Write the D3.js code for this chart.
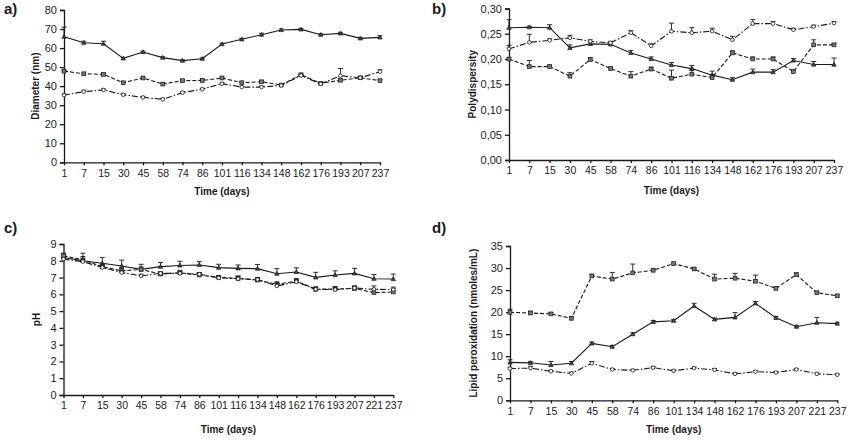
<!DOCTYPE html>
<html>
<head>
<meta charset="utf-8">
<script src="https://cdn.jsdelivr.net/npm/d3@7"></script>
<style>
  body { margin: 0; background: #fff; }
  svg { font-family: "Liberation Sans", Arial, sans-serif; }
  .tick text { fill: #222; }
</style>
</head>
<body>
<div id="chart"></div>
<script>
// Time points (days) used on each panel
const daysA = ["1","7","15","30","45","58","74","86","101","116","134","148","162","176","193","207","237"];
const daysB = daysA;
const daysC = ["1","7","15","30","45","58","74","86","101","116","134","148","162","176","193","207","221","237"];
const daysD = ["1","7","15","30","45","58","74","86","101","134","148","162","176","193","207","221","237"];

// a) Diameter (nm)
const diamSolid   = [66, 62.8, 62.3, 54.6, 57.9, 55, 53.4, 54.4, 62.1, 64.6, 67, 69.5, 69.8, 67, 67.7, 65.1, 65.6];
const diamDashed  = [47.9, 46.5, 46.2, 41.8, 44.3, 41.1, 42.9, 43, 44.3, 41.8, 42.3, 40.6, 46, 41.5, 43.1, 44.4, 42.9];
const diamDashdot = [35.3, 37.1, 38, 35.5, 34.1, 33.1, 36.6, 38.4, 41.3, 39.5, 39.5, 40.4, 45.6, 41.2, 45.5, 44.4, 47.6];
const diamSolidErr   = [5, 0.8, 1.3, 0.5, 0.5, 0.4, 0.4, 0.4, 0.5, 0.5, 0.8, 0.5, 0.5, 0.5, 0.6, 0.5, 0.9];
const diamDashedErr  = [0.5, 0.5, 0.5, 0.5, 0.5, 0.5, 0.5, 0.5, 0.5, 0.5, 0.5, 0.5, 0.5, 0.5, 0.5, 0.5, 0.5];
const diamDashdotErr = [0.5, 0.8, 0.5, 0.5, 0.5, 0.5, 0.5, 0.5, 0.5, 0.5, 0.5, 0.5, 0.5, 0.5, 3.8, 0.5, 1.0];

// b) Polydispersity
const polySolid   = [0.262, 0.263, 0.262, 0.222, 0.230, 0.229, 0.212, 0.200, 0.188, 0.181, 0.168, 0.159, 0.174, 0.174, 0.197, 0.189, 0.189];
const polyDashed  = [0.200, 0.185, 0.185, 0.166, 0.199, 0.181, 0.166, 0.180, 0.162, 0.170, 0.163, 0.212, 0.200, 0.200, 0.175, 0.228, 0.228];
const polyDashdot = [0.220, 0.233, 0.237, 0.242, 0.235, 0.232, 0.252, 0.226, 0.255, 0.252, 0.255, 0.238, 0.270, 0.270, 0.258, 0.264, 0.271];
const polySolidErr   = [0.016, 0.002, 0.006, 0.006, 0.004, 0.003, 0.005, 0.004, 0.005, 0.006, 0.008, 0.004, 0.006, 0.005, 0.004, 0.006, 0.013];
const polyDashedErr  = [0.003, 0.012, 0.003, 0.007, 0.004, 0.003, 0.009, 0.004, 0.016, 0.008, 0.006, 0.004, 0.004, 0.004, 0.003, 0.010, 0.003];
const polyDashdotErr = [0.007, 0.016, 0.003, 0.005, 0.003, 0.003, 0.004, 0.004, 0.016, 0.010, 0.006, 0.007, 0.008, 0.004, 0.003, 0.003, 0.003];

// c) pH
const phSolid   = [8.2, 8.0, 7.85, 7.69, 7.49, 7.65, 7.72, 7.75, 7.59, 7.55, 7.53, 7.23, 7.33, 7.01, 7.15, 7.25, 6.93, 6.91];
const phDashed  = [8.3, 8.05, 7.65, 7.4, 7.48, 7.21, 7.28, 7.15, 7.01, 6.95, 6.85, 6.6, 6.79, 6.3, 6.32, 6.35, 6.1, 6.14];
const phDashdot = [8.1, 7.95, 7.6, 7.3, 7.1, 7.25, 7.25, 7.2, 6.98, 6.93, 6.88, 6.5, 6.75, 6.3, 6.28, 6.38, 6.3, 6.28];
const phSolidErr   = [0.2, 0.45, 0.35, 0.35, 0.3, 0.25, 0.25, 0.2, 0.2, 0.2, 0.25, 0.3, 0.25, 0.3, 0.25, 0.3, 0.25, 0.3];
const phDashedErr  = [0.15, 0.2, 0.15, 0.15, 0.15, 0.1, 0.15, 0.15, 0.1, 0.15, 0.15, 0.15, 0.15, 0.15, 0.15, 0.15, 0.2, 0.2];
const phDashdotErr = [0.1, 0.15, 0.1, 0.1, 0.1, 0.1, 0.1, 0.1, 0.1, 0.1, 0.1, 0.15, 0.1, 0.1, 0.1, 0.1, 0.2, 0.15];

// d) Lipid peroxidation (nmoles/mL)
const lipidSolid   = [8.6, 8.5, 8.0, 8.4, 12.9, 12.15, 15.0, 17.8, 18.05, 21.4, 18.35, 18.8, 22.0, 18.7, 16.7, 17.6, 17.4];
const lipidDashed  = [19.95, 19.8, 19.6, 18.6, 28.2, 27.5, 28.9, 29.5, 31.0, 29.8, 27.5, 27.7, 27.0, 25.4, 28.5, 24.4, 23.7];
const lipidDashdot = [7.2, 7.3, 6.6, 6.1, 8.4, 7.0, 6.8, 7.4, 6.7, 7.3, 6.9, 6.0, 6.5, 6.3, 7.0, 6.0, 5.8];
const lipidSolidErr   = [0.6, 0.3, 0.8, 0.4, 0.3, 0.3, 0.3, 0.3, 0.3, 0.6, 0.3, 1.1, 0.4, 0.3, 0.3, 1.2, 0.3];
const lipidDashedErr  = [0.7, 0.4, 0.3, 0.4, 0.4, 1.5, 2.0, 0.3, 0.3, 0.3, 1.1, 1.1, 1.4, 0.3, 0.4, 0.3, 0.3];
const lipidDashdotErr = [0.3, 0.4, 0.2, 0.3, 0.4, 0.2, 0.2, 0.2, 0.2, 0.2, 0.3, 0.2, 0.2, 0.2, 0.2, 0.2, 0.2];

const W = 854, H = 440;
const ink = "#1a1a1a";

const svg = d3.select("#chart").append("svg")
    .attr("width", W)
    .attr("height", H);

// line styles for the three formulations
const styles = {
    solid:   { dash: null,        marker: "triangle" },
    dashed:  { dash: "4,2",       marker: "square" },
    dashdot: { dash: "6,2,1.5,2", marker: "circle" }
};

function drawMarker(g, type, x, y) {
    if (type === "triangle") {
        g.append("path")
            .attr("d", `M${x},${y - 2.2}L${x + 2.2},${y + 1.6}L${x - 2.2},${y + 1.6}Z`)
            .attr("fill", "#444").attr("stroke", ink).attr("stroke-width", 0.7);
    } else if (type === "square") {
        g.append("rect")
            .attr("x", x - 1.9).attr("y", y - 1.9)
            .attr("width", 3.8).attr("height", 3.8)
            .attr("fill", "#777").attr("stroke", ink).attr("stroke-width", 0.7);
    } else {
        g.append("circle")
            .attr("cx", x).attr("cy", y).attr("r", 1.8)
            .attr("fill", "#fff").attr("stroke", ink).attr("stroke-width", 0.8);
    }
}

function drawPanel(p) {
    const x = d3.scalePoint().domain(p.days).range([p.left, p.right]);
    const y = d3.scaleLinear().domain([0, p.max]).range([p.bottom, p.top]);

    const g = svg.append("g");

    // y axis
    const yAxis = d3.axisLeft(y)
        .tickValues(d3.range(0, p.max + p.step / 2, p.step))
        .tickSize(4).tickPadding(3)
        .tickFormat(p.fmt);
    g.append("g")
        .attr("transform", `translate(${p.left},0)`)
        .call(yAxis)
        .call(s => s.selectAll("text").attr("font-size", 11))
        .call(s => s.selectAll("line, path").attr("stroke", ink).attr("stroke-width", 1.3));

    // x axis
    const xAxis = d3.axisBottom(x).tickSize(3).tickSizeOuter(0).tickPadding(4);
    g.append("g")
        .attr("transform", `translate(0,${p.bottom})`)
        .call(xAxis)
        .call(s => s.selectAll("text").attr("font-size", 10.5))
        .call(s => s.selectAll("line, path").attr("stroke", ink).attr("stroke-width", 1.3));

    // titles
    g.append("text")
        .attr("x", (p.left + p.right) / 2)
        .attr("y", p.bottom + p.xTitleOff)
        .attr("text-anchor", "middle")
        .attr("font-size", 10).attr("font-weight", "bold")
        .attr("fill", ink)
        .text("Time (days)");

    g.append("text")
        .attr("transform", `translate(${p.yTitleX},${(p.top + p.bottom) / 2}) rotate(-90)`)
        .attr("text-anchor", "middle")
        .attr("font-size", 10).attr("font-weight", "bold")
        .attr("fill", ink)
        .text(p.yTitle);

    g.append("text")
        .attr("x", p.labelX).attr("y", p.labelY)
        .attr("font-size", 15).attr("font-weight", "bold")
        .attr("fill", ink)
        .text(p.label);

    // series
    p.series.forEach(s => {
        const st = styles[s.style];
        const pts = p.days.map((d, i) => [x(d), y(s.values[i])]);

        // error bars (upper side only, like the source)
        const eg = g.append("g").attr("stroke", ink).attr("stroke-width", 0.9);
        p.days.forEach((d, i) => {
            const x0 = x(d), y0 = y(s.values[i]), y1 = y(s.values[i] + s.err[i]);
            eg.append("line").attr("x1", x0).attr("x2", x0).attr("y1", y0).attr("y2", y1);
            eg.append("line").attr("x1", x0 - 2.5).attr("x2", x0 + 2.5).attr("y1", y1).attr("y2", y1);
        });

        g.append("path")
            .attr("d", d3.line()(pts))
            .attr("fill", "none")
            .attr("stroke", ink)
            .attr("stroke-width", 1.1)
            .attr("stroke-dasharray", st.dash);

        const mg = g.append("g");
        pts.forEach(([px, py]) => drawMarker(mg, st.marker, px, py));
    });
}

const comma2 = v => d3.format(".2f")(v).replace(".", ",");

drawPanel({
    label: "a)", labelX: 4, labelY: 14,
    days: daysA, left: 64, right: 380, top: 10, bottom: 162.3,
    max: 80, step: 10, fmt: d3.format("d"),
    yTitle: "Diameter (nm)", yTitleX: 39, xTitleOff: 33,
    series: [
        { style: "solid", values: diamSolid, err: diamSolidErr },
        { style: "dashed", values: diamDashed, err: diamDashedErr },
        { style: "dashdot", values: diamDashdot, err: diamDashdotErr }
    ]
});

drawPanel({
    label: "b)", labelX: 432, labelY: 14,
    days: daysB, left: 509, right: 834, top: 8.5, bottom: 160,
    max: 0.30, step: 0.05, fmt: comma2,
    yTitle: "Polydispersity", yTitleX: 476, xTitleOff: 34,
    series: [
        { style: "solid", values: polySolid, err: polySolidErr },
        { style: "dashed", values: polyDashed, err: polyDashedErr },
        { style: "dashdot", values: polyDashdot, err: polyDashdotErr }
    ]
});

drawPanel({
    label: "c)", labelX: 4, labelY: 233,
    days: daysC, left: 63.5, right: 393.3, top: 244, bottom: 395,
    max: 9, step: 1, fmt: d3.format("d"),
    yTitle: "pH", yTitleX: 40, xTitleOff: 38,
    series: [
        { style: "solid", values: phSolid, err: phSolidErr },
        { style: "dashed", values: phDashed, err: phDashedErr },
        { style: "dashdot", values: phDashdot, err: phDashdotErr }
    ]
});

drawPanel({
    label: "d)", labelX: 432, labelY: 233,
    days: daysD, left: 510, right: 837.3, top: 246, bottom: 400.3,
    max: 35, step: 5, fmt: d3.format("d"),
    yTitle: "Lipid peroxidation (nmoles/mL)", yTitleX: 477, xTitleOff: 33,
    series: [
        { style: "solid", values: lipidSolid, err: lipidSolidErr },
        { style: "dashed", values: lipidDashed, err: lipidDashedErr },
        { style: "dashdot", values: lipidDashdot, err: lipidDashdotErr }
    ]
});
</script>
</body>
</html>
